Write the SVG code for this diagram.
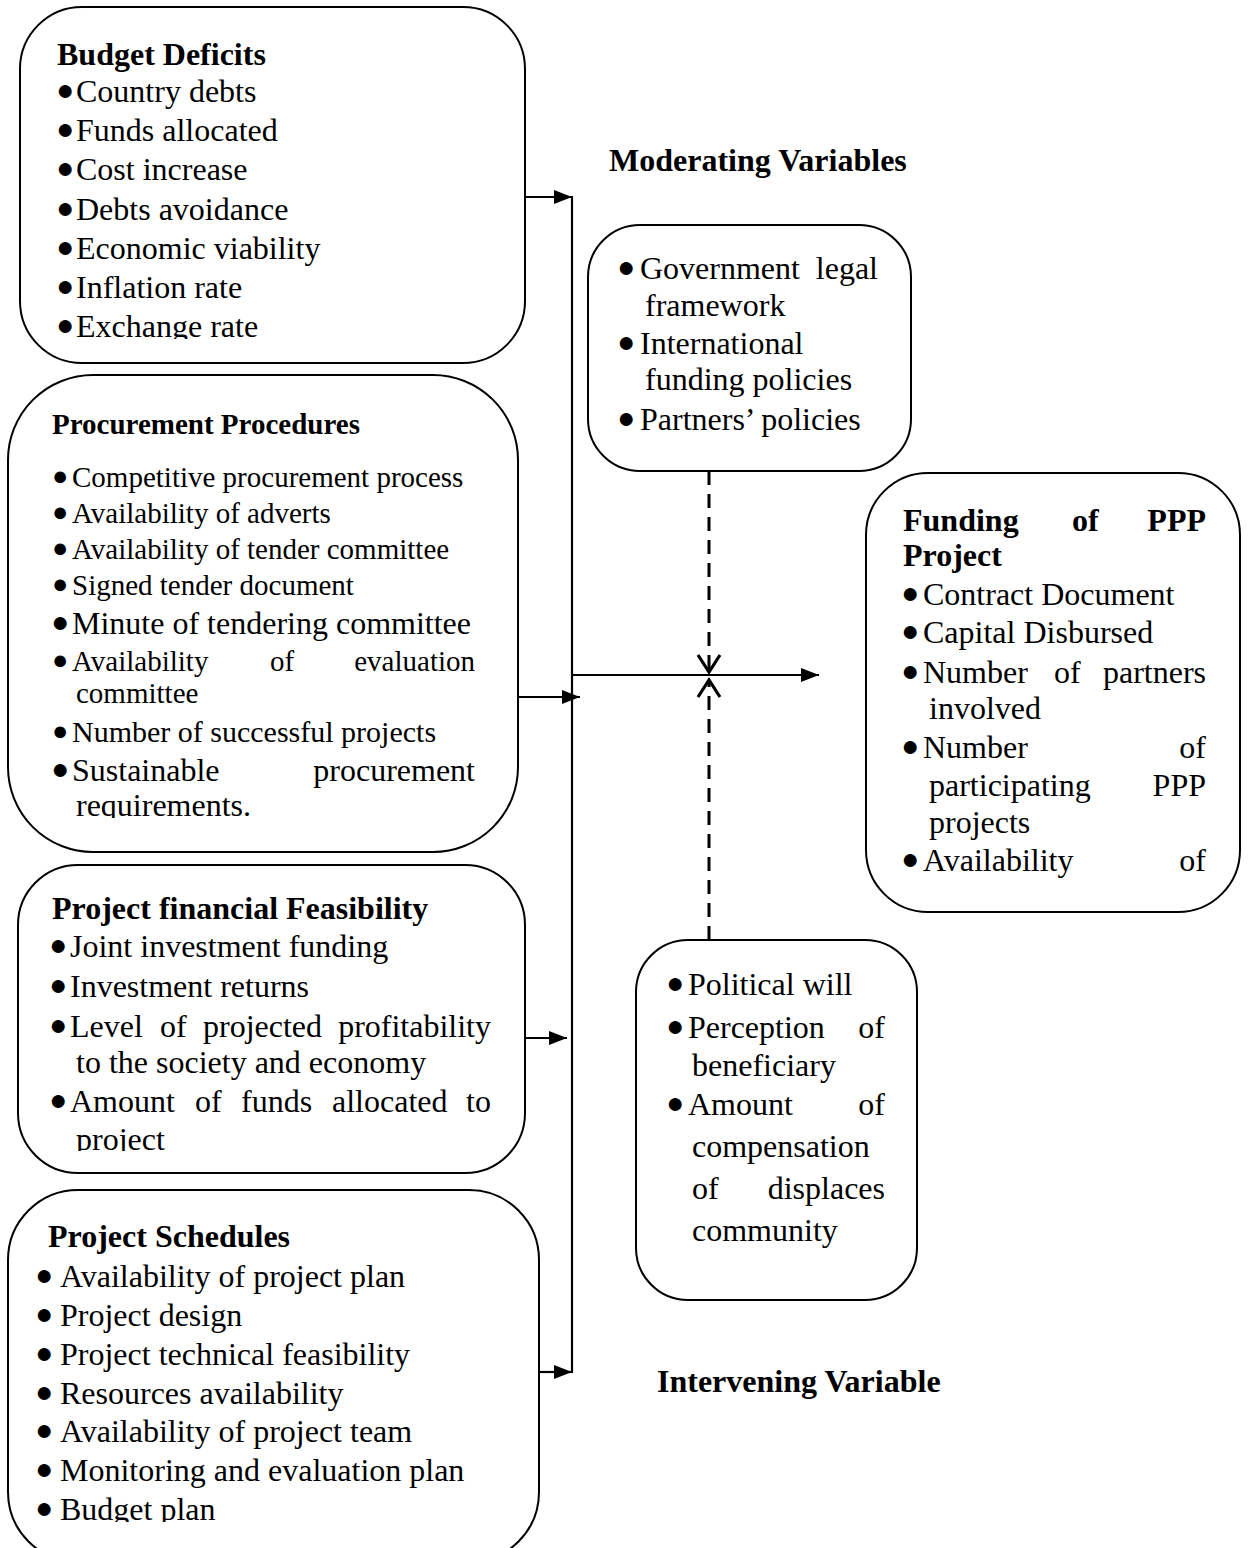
<svg xmlns="http://www.w3.org/2000/svg" width="1248" height="1548" viewBox="0 0 1248 1548">
<style>
text{font-family:"Liberation Serif","Times New Roman",serif;fill:#000}
.t{font-weight:bold;font-size:32px}
.t29{font-weight:bold;font-size:29px}
.i{font-size:32px}
.s{font-size:29px}
.b{font-size:30px}
.b2{font-size:27px}
.box{fill:#fff;stroke:#000;stroke-width:2}
.ln{fill:none;stroke:#000;stroke-width:2.2}
.dash{fill:none;stroke:#000;stroke-width:3;stroke-dasharray:14 9}
.e{text-anchor:end}
</style>
<defs>
<marker id="arr" markerUnits="userSpaceOnUse" markerWidth="20" markerHeight="16" refX="18" refY="8" orient="auto">
<path d="M0,1 L18,8 L0,15 z" fill="#000"/>
</marker>
<marker id="open" markerUnits="userSpaceOnUse" markerWidth="24" markerHeight="28" refX="19" refY="14" orient="auto">
<path d="M2,3 L19,14 L2,25" fill="none" stroke="#000" stroke-width="3.2" stroke-dasharray="none"/>
</marker>
<clipPath id="cBud"><rect x="0" y="0" width="560" height="339"/></clipPath>
<clipPath id="cPro"><rect x="0" y="370" width="560" height="448"/></clipPath>
<clipPath id="cFin"><rect x="0" y="860" width="560" height="291"/></clipPath>
<clipPath id="cSch"><rect x="0" y="1185" width="560" height="337"/></clipPath>
</defs>

<g id="connectors">
<line class="ln" x1="526" y1="197" x2="572" y2="197" marker-end="url(#arr)"/>
<line class="ln" x1="572" y1="196" x2="572" y2="1373"/>
<line class="ln" x1="519" y1="697" x2="580" y2="697" marker-end="url(#arr)"/>
<line class="ln" x1="526" y1="1038" x2="567" y2="1038" marker-end="url(#arr)"/>
<line class="ln" x1="540" y1="1372" x2="572" y2="1372" marker-end="url(#arr)"/>
<line class="ln" x1="572" y1="675" x2="819" y2="675" marker-end="url(#arr)"/>
<line class="dash" x1="709" y1="471" x2="709" y2="672" marker-end="url(#open)"/>
<line class="dash" x1="709" y1="940" x2="709" y2="680" marker-end="url(#open)"/>
</g>

<g id="budget-deficits">
<rect class="box" x="20" y="7" width="505" height="356" rx="62" ry="62"/>
<text class="t" x="57" y="65">Budget Deficits</text>
<g clip-path="url(#cBud)">
<text class="i" y="102"><tspan class="b" x="56" dy="-2.5">●</tspan><tspan x="76" dy="2.5">Country debts</tspan></text>
<text class="i" y="141"><tspan class="b" x="56" dy="-2.5">●</tspan><tspan x="76" dy="2.5">Funds allocated</tspan></text>
<text class="i" y="180"><tspan class="b" x="56" dy="-2.5">●</tspan><tspan x="76" dy="2.5">Cost increase</tspan></text>
<text class="i" y="220"><tspan class="b" x="56" dy="-2.5">●</tspan><tspan x="76" dy="2.5">Debts avoidance</tspan></text>
<text class="i" y="259"><tspan class="b" x="56" dy="-2.5">●</tspan><tspan x="76" dy="2.5">Economic viability</tspan></text>
<text class="i" y="298"><tspan class="b" x="56" dy="-2.5">●</tspan><tspan x="76" dy="2.5">Inflation rate</tspan></text>
<text class="i" y="337"><tspan class="b" x="56" dy="-2.5">●</tspan><tspan x="76" dy="2.5">Exchange rate</tspan></text>
</g>
</g>

<g id="procurement-procedures">
<rect class="box" x="8" y="375" width="510" height="477" rx="85" ry="85"/>
<text class="t29" x="52" y="434">Procurement Procedures</text>
<g clip-path="url(#cPro)">
<text class="s" y="487"><tspan class="b2" x="52" dy="-2">●</tspan><tspan x="72" dy="2">Competitive procurement process</tspan></text>
<text class="s" y="523"><tspan class="b2" x="52" dy="-2">●</tspan><tspan x="72" dy="2">Availability of adverts</tspan></text>
<text class="s" y="559"><tspan class="b2" x="52" dy="-2">●</tspan><tspan x="72" dy="2">Availability of tender committee</tspan></text>
<text class="s" y="595"><tspan class="b2" x="52" dy="-2">●</tspan><tspan x="72" dy="2">Signed tender document</tspan></text>
<text class="i" y="634"><tspan class="b" x="51" dy="-2.5">●</tspan><tspan x="72" dy="2.5">Minute of tendering committee</tspan></text>
<text class="s" y="671"><tspan class="b2" x="52" dy="-2">●</tspan><tspan x="72" dy="2">Availability</tspan><tspan x="270">of</tspan></text>
<text class="s e" x="475" y="671">evaluation</text>
<text class="s" x="76" y="703">committee</text>
<text class="s" y="742"><tspan class="b2" x="52" dy="-2">●</tspan><tspan x="72" dy="2" style="font-size:30px">Number of successful projects</tspan></text>
<text class="i" y="781"><tspan class="b" x="51" dy="-2.5">●</tspan><tspan x="72" dy="2.5">Sustainable</tspan></text>
<text class="i e" x="475" y="781">procurement</text>
<text class="i" x="76" y="816">requirements.</text>
</g>
</g>

<g id="project-financial-feasibility">
<rect class="box" x="18" y="865" width="507" height="308" rx="60" ry="60"/>
<text class="t" x="52" y="919">Project financial Feasibility</text>
<g clip-path="url(#cFin)">
<text class="i" y="957"><tspan class="b" x="49" dy="-2.5">●</tspan><tspan x="70" dy="2.5">Joint investment funding</tspan></text>
<text class="i" y="997"><tspan class="b" x="49" dy="-2.5">●</tspan><tspan x="70" dy="2.5">Investment returns</tspan></text>
<text class="i" y="1037"><tspan class="b" x="49" dy="-2.5">●</tspan><tspan x="70" dy="2.5">Level</tspan><tspan x="160">of</tspan><tspan x="203">projected</tspan></text>
<text class="i e" x="491" y="1037">profitability</text>
<text class="i" x="76" y="1073">to the society and economy</text>
<text class="i" y="1112"><tspan class="b" x="49" dy="-2.5">●</tspan><tspan x="70" dy="2.5">Amount</tspan><tspan x="195">of</tspan><tspan x="241">funds</tspan><tspan x="332">allocated</tspan></text>
<text class="i e" x="491" y="1112">to</text>
<text class="i" x="76" y="1150">project</text>
</g>
</g>

<g id="project-schedules">
<rect class="box" x="8" y="1190" width="531" height="372" rx="70" ry="70"/>
<text class="t" x="48" y="1247">Project Schedules</text>
<g clip-path="url(#cSch)">
<text class="i" y="1287"><tspan class="b" x="35" dy="-2.5">●</tspan><tspan x="60" dy="2.5">Availability of project plan</tspan></text>
<text class="i" y="1326"><tspan class="b" x="35" dy="-2.5">●</tspan><tspan x="60" dy="2.5">Project design</tspan></text>
<text class="i" y="1365"><tspan class="b" x="35" dy="-2.5">●</tspan><tspan x="60" dy="2.5">Project technical feasibility</tspan></text>
<text class="i" y="1404"><tspan class="b" x="35" dy="-2.5">●</tspan><tspan x="60" dy="2.5">Resources availability</tspan></text>
<text class="i" y="1442"><tspan class="b" x="35" dy="-2.5">●</tspan><tspan x="60" dy="2.5">Availability of project team</tspan></text>
<text class="i" y="1481"><tspan class="b" x="35" dy="-2.5">●</tspan><tspan x="60" dy="2.5">Monitoring and evaluation plan</tspan></text>
<text class="i" y="1520"><tspan class="b" x="35" dy="-2.5">●</tspan><tspan x="60" dy="2.5">Budget plan</tspan></text>
</g>
</g>

<g id="moderating-variables-label">
<text class="t" x="609" y="171">Moderating Variables</text>
</g>

<g id="moderating-variables">
<rect class="box" x="588" y="225" width="323" height="246" rx="52" ry="52"/>
<text class="i" y="279"><tspan class="b" x="617" dy="-2.5">●</tspan><tspan x="640" dy="2.5">Government</tspan></text>
<text class="i e" x="878" y="279">legal</text>
<text class="i" x="645" y="316">framework</text>
<text class="i" y="354"><tspan class="b" x="617" dy="-2.5">●</tspan><tspan x="640" dy="2.5">International</tspan></text>
<text class="i" x="645" y="390">funding policies</text>
<text class="i" y="430"><tspan class="b" x="617" dy="-2.5">●</tspan><tspan x="640" dy="2.5">Partners’ policies</tspan></text>
</g>

<g id="funding-of-ppp-project">
<rect class="box" x="866" y="473" width="374" height="439" rx="62" ry="62"/>
<text class="t" y="531"><tspan x="903">Funding</tspan><tspan x="1072">of</tspan></text>
<text class="t e" x="1206" y="531">PPP</text>
<text class="t" x="903" y="566">Project</text>
<text class="i" y="605"><tspan class="b" x="901" dy="-2.5">●</tspan><tspan x="923" dy="2.5">Contract Document</tspan></text>
<text class="i" y="643"><tspan class="b" x="901" dy="-2.5">●</tspan><tspan x="923" dy="2.5">Capital Disbursed</tspan></text>
<text class="i" y="683"><tspan class="b" x="901" dy="-2.5">●</tspan><tspan x="923" dy="2.5">Number</tspan><tspan x="1054">of</tspan></text>
<text class="i e" x="1206" y="683">partners</text>
<text class="i" x="929" y="719">involved</text>
<text class="i" y="758"><tspan class="b" x="901" dy="-2.5">●</tspan><tspan x="923" dy="2.5">Number</tspan></text>
<text class="i e" x="1206" y="758">of</text>
<text class="i" x="929" y="796">participating</text>
<text class="i e" x="1206" y="796">PPP</text>
<text class="i" x="929" y="833">projects</text>
<text class="i" y="871"><tspan class="b" x="901" dy="-2.5">●</tspan><tspan x="923" dy="2.5">Availability</tspan></text>
<text class="i e" x="1206" y="871">of</text>
</g>

<g id="intervening-variables">
<rect class="box" x="636" y="940" width="281" height="360" rx="52" ry="52"/>
<text class="i" y="995"><tspan class="b" x="666" dy="-2.5">●</tspan><tspan x="688" dy="2.5">Political will</tspan></text>
<text class="i" y="1038"><tspan class="b" x="666" dy="-2.5">●</tspan><tspan x="688" dy="2.5">Perception</tspan></text>
<text class="i e" x="885" y="1038">of</text>
<text class="i" x="692" y="1076">beneficiary</text>
<text class="i" y="1115"><tspan class="b" x="666" dy="-2.5">●</tspan><tspan x="688" dy="2.5">Amount</tspan></text>
<text class="i e" x="885" y="1115">of</text>
<text class="i" x="692" y="1157">compensation</text>
<text class="i" x="692" y="1199">of</text>
<text class="i e" x="885" y="1199">displaces</text>
<text class="i" x="692" y="1241">community</text>
</g>

<g id="intervening-variable-label">
<text class="t" x="657" y="1392">Intervening Variable</text>
</g>
</svg>
